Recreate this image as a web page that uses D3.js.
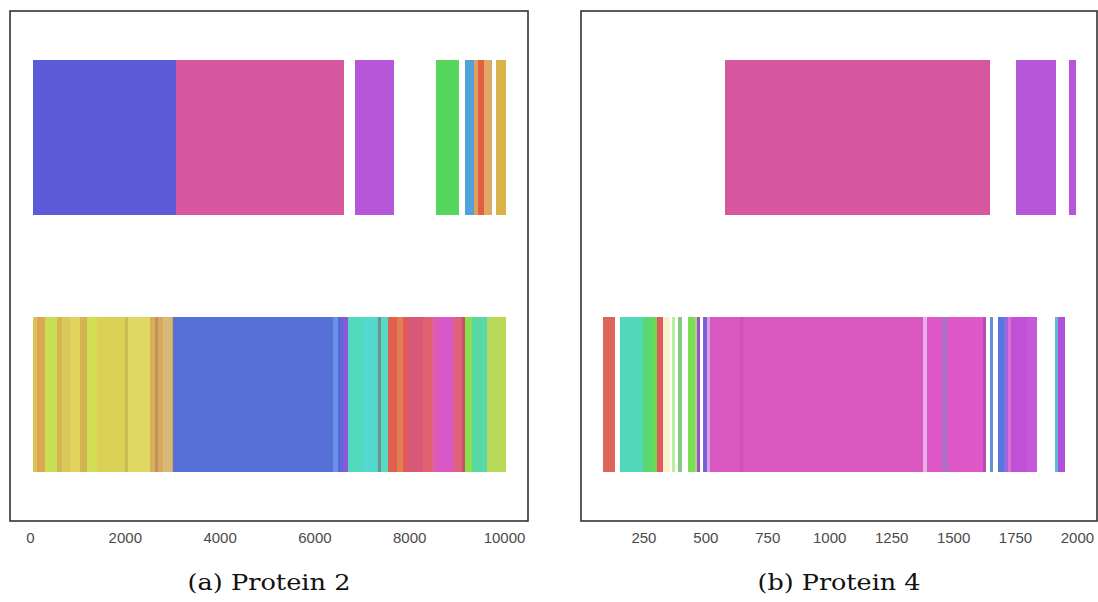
<!DOCTYPE html>
<html lang="en">
<head>
  <meta charset="UTF-8">
  <title>Protein segments</title>
  <script src="https://d3js.org/d3.v7.min.js"></script>
  <style>
    body {
      margin: 0;
      background: #fff;
    }

    svg {
      display: block;
    }

    .axis text {
      font-family: "Liberation Sans", Arial, sans-serif;
      font-size: 15px;
    }

    .caption {
      font-family: "DejaVu Serif", serif;
      font-size: 22px;
      fill: #111;
    }
  </style>
</head>
<body>

  <svg id="chart" width="1098" height="602"></svg>

  <script>
    // two rows per panel (upper and lower track)
    const rows = ["upper", "lower"];

    // Protein 2 segments: [start, end, colour]
    const protein2Upper = [
      [57, 3072, "#5b5bd8"],
      [3072, 6633, "#d6579f"],
      [6850, 7671, "#b557d8"],
      [8557, 9044, "#57d65e"],
      [9177, 9357, "#52a2d9"],
      [9357, 9451, "#e0a060"],
      [9451, 9568, "#e0603f"],
      [9568, 9747, "#e0a868"],
      [9821, 10042, "#d9b24a"]
    ];

    const protein2Lower = [
      [57, 141, "#dcc25a"],
      [141, 316, "#dca752"],
      [316, 563, "#c8df55"],
      [563, 669, "#d2b64e"],
      [669, 844, "#dcc85a"],
      [844, 1055, "#e0d25a"],
      [1055, 1196, "#d2b452"],
      [1196, 1407, "#d2df55"],
      [1407, 2004, "#dcd157"],
      [2004, 2074, "#c6bf55"],
      [2074, 2532, "#e0d862"],
      [2532, 2637, "#d8b058"],
      [2637, 2707, "#c09060"],
      [2707, 2812, "#d8a860"],
      [2812, 2989, "#d8b878"],
      [2989, 3023, "#d8a050"],
      [3023, 6399, "#5770d8"],
      [6399, 6504, "#6a90e8"],
      [6504, 6610, "#5a68d8"],
      [6610, 6715, "#8858d8"],
      [6715, 7032, "#52d8bc"],
      [7032, 7278, "#55d8d0"],
      [7278, 7348, "#52d8c0"],
      [7348, 7399, "#6a9090"],
      [7399, 7559, "#55d8c4"],
      [7559, 7736, "#e06050"],
      [7736, 7876, "#e08050"],
      [7876, 7981, "#e05a5a"],
      [7981, 8297, "#d85878"],
      [8297, 8475, "#e06070"],
      [8475, 8580, "#e060a8"],
      [8580, 8930, "#d858c8"],
      [8930, 9108, "#e06080"],
      [9108, 9177, "#c85060"],
      [9177, 9318, "#88e050"],
      [9318, 9563, "#58d8a0"],
      [9563, 9635, "#58d8b0"],
      [9635, 10036, "#b8d858"]
    ];

    // Protein 4 segments
    const protein4Upper = [
      [579, 1648, "#d6579f"],
      [1756, 1914, "#b557d8"],
      [1966, 1998, "#b557d8"]
    ];

    const protein4Lower = [
      [88, 135, "#dc6458"],
      [156, 250, "#52d8b8"],
      [250, 290, "#5cd870"],
      [290, 304, "#70d850"],
      [304, 330, "#e05860"],
      [330, 357, "#f4f4c8"],
      [364, 377, "#b8f0a0"],
      [391, 404, "#88c880"],
      [431, 458, "#78e050"],
      [458, 465, "#c0c890"],
      [465, 478, "#9058c0"],
      [492, 505, "#7c60d0"],
      [505, 519, "#d8a0e8"],
      [519, 640, "#d958c0"],
      [640, 652, "#d050b8"],
      [652, 1377, "#d958c0"],
      [1377, 1393, "#e8b0e8"],
      [1393, 1454, "#e058c8"],
      [1454, 1478, "#b070c8"],
      [1478, 1619, "#e058c8"],
      [1619, 1631, "#b050b0"],
      [1648, 1660, "#6090d8"],
      [1680, 1704, "#5878e0"],
      [1704, 1720, "#9868e0"],
      [1720, 1732, "#e070d0"],
      [1732, 1797, "#c050d8"],
      [1797, 1837, "#c458d8"],
      [1910, 1922, "#60b8d8"],
      [1922, 1950, "#b050d8"]
    ];

    const protein2Ticks = [0, 2000, 4000, 6000, 8000, 10000];
    const protein4Ticks = [250, 500, 750, 1000, 1250, 1500, 1750, 2000];

    const captions = ["(a) Protein 2", "(b) Protein 4"];

    const panels = [
      { left: 10, right: 528, domain: [-422, 10506], ticks: protein2Ticks, tracks: [protein2Upper, protein2Lower], caption: captions[0] },
      { left: 581, right: 1097, domain: [-2, 2081], ticks: protein4Ticks, tracks: [protein4Upper, protein4Lower], caption: captions[1] }
    ];

    const frameTop = 11, frameBottom = 521;
    const svg = d3.select("#chart");

    panels.forEach(p => {
      const x = d3.scaleLinear().domain(p.domain).range([p.left, p.right]);
      const y = d3.scaleBand().domain(rows).range([frameTop, frameBottom])
        .paddingInner(0.395).paddingOuter(0.19);

      const g = svg.append("g");

      // segments of each track
      p.tracks.forEach((segs, i) => {
        g.selectAll(null)
          .data(segs)
          .enter().append("rect")
          .attr("x", d => x(d[0]))
          .attr("width", d => x(d[1]) - x(d[0]))
          .attr("y", y(rows[i]))
          .attr("height", y.bandwidth())
          .attr("fill", d => d[2])
          .attr("shape-rendering", "crispEdges");
      });

      // frame
      g.append("rect")
        .attr("x", p.left).attr("y", frameTop)
        .attr("width", p.right - p.left).attr("height", frameBottom - frameTop)
        .attr("fill", "none")
        .attr("stroke", "#333")
        .attr("stroke-width", 1.6);

      // x axis labels only, no tick marks
      const axis = g.append("g")
        .attr("class", "axis")
        .attr("transform", `translate(0,${frameBottom})`)
        .call(d3.axisBottom(x).tickValues(p.ticks).tickFormat(d3.format("d"))
          .tickSize(0).tickPadding(11));
      axis.select(".domain").remove();
      axis.selectAll("text").attr("fill", "#4a4a4a");

      svg.append("text")
        .attr("class", "caption")
        .attr("x", (p.left + p.right) / 2)
        .attr("y", 590)
        .attr("text-anchor", "middle")
        .attr("textLength", 163)
        .attr("lengthAdjust", "spacingAndGlyphs")
        .text(p.caption);
    });
  </script>

</body>
</html>
